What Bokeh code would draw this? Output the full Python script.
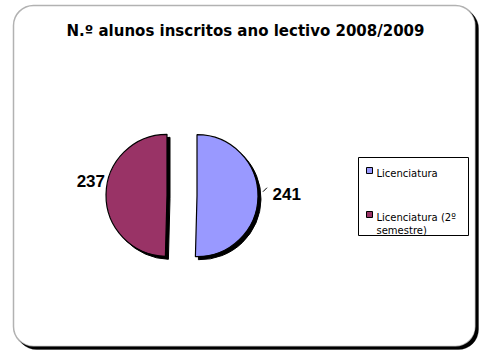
import math
import textwrap
import numpy as np
from bokeh.plotting import figure
from bokeh.models import Range1d, BoxAnnotation, ColumnDataSource
from bokeh.core.properties import value
from bokeh.embed import file_html
from bokeh.resources import INLINE

# ---- data ----
title_text = "N.º alunos inscritos ano lectivo 2008/2009"
categories = ["Licenciatura", "Licenciatura (2º semestre)"]
students = [241, 237]
colors = ["#9999FF", "#993366"]

# ---- layout helpers (page pixel -> data coords) ----
W, H = 485, 352
def X(px):
    return px
def Y(py):
    return H - py

p = figure(width=W, height=H, x_range=Range1d(0, W), y_range=Range1d(0, H),
           output_backend="svg", toolbar_location=None, min_border=0,
           x_axis_type=None, y_axis_type=None, outline_line_color=None,
           background_fill_color="white", border_fill_color="white")
p.grid.visible = False

# chart area frame with shadow
shadow = BoxAnnotation(left=X(16), right=X(478), top=Y(8), bottom=Y(349),
                       border_radius=20, fill_color="black", fill_alpha=1,
                       line_color="black", line_width=1, level="underlay")
frame = BoxAnnotation(left=X(13), right=X(475), top=Y(5), bottom=Y(346),
                      border_radius=20, fill_color="white", fill_alpha=1,
                      line_color="black", line_width=1.5, level="underlay")
p.add_layout(shadow)
p.add_layout(frame)

# title
p.text(x=[X(245)], y=[Y(30)], text=[title_text], text_font=value("DejaVu Sans"),
       text_font_style="bold", text_font_size="15px", text_align="center",
       text_baseline="alphabetic", text_color="black")

# ---- pie (exploded) ----
center_x, center_y, radius, explode = X(181.5), Y(195), 61, 15
vals = np.array(students, dtype=float)
total = vals.sum()
cum = np.concatenate([[0], np.cumsum(vals)])
start = math.pi / 2 - 2 * math.pi * cum[:-1] / total
end = math.pi / 2 - 2 * math.pi * cum[1:] / total
mid = (start + end) / 2
cx = center_x + explode * np.cos(mid)
cy = center_y + explode * np.sin(mid)

src = ColumnDataSource(dict(x=cx, y=cy, sx=cx + 3, sy=cy - 3, start=start, end=end,
                            color=colors, cat=categories, val=students))
p.wedge(x="sx", y="sy", radius=radius, start_angle="start", end_angle="end",
        direction="clock", fill_color="black", line_color="black", source=src)
p.wedge(x="x", y="y", radius=radius, start_angle="start", end_angle="end",
        direction="clock", fill_color="color", line_color="black", line_width=1.2,
        source=src)

# data labels
label_gap = [14.5, 1.0]
label_dy = [-3, -13]
label_align = ["left", "right"]
for i in range(len(students)):
    lx = cx[i] + (radius + label_gap[i]) * math.cos(mid[i])
    ly = cy[i] + (radius + label_gap[i]) * math.sin(mid[i]) - label_dy[i]
    p.text(x=[lx], y=[ly], text=[str(students[i])], text_font=value("Liberation Sans"),
           text_font_style="bold", text_font_size="17px", text_align=label_align[i],
           text_baseline="alphabetic", text_color="black")
# leader line for first label
i = 0
x0 = cx[i] + (radius + 5) * math.cos(mid[i]); y0 = cy[i] + 4
x1 = cx[i] + (radius + 9) * math.cos(mid[i]); y1 = cy[i] + 8
p.line(x=[x0, x1], y=[y0, y1], line_color="black", line_width=1)

# ---- legend ----
p.quad(left=[X(358)], right=[X(468)], top=[Y(157)], bottom=[Y(235)],
       fill_color="white", line_color="black", line_width=1)
leg_y = [170, 214]
for i, cat in enumerate(categories):
    p.rect(x=[X(369)], y=[Y(leg_y[i])], width=6, height=6, fill_color=colors[i],
           line_color="black", line_width=1)
    lines = textwrap.wrap(cat, 16)
    for j, ln in enumerate(lines):
        p.text(x=[X(376)], y=[Y(leg_y[i] + 3 + 13 * j)], text=[ln],
               text_font=value("DejaVu Sans"), text_font_size="10px",
               text_align="left", text_baseline="alphabetic", text_color="black")

open("out.html", "w").write(file_html(p, INLINE))
